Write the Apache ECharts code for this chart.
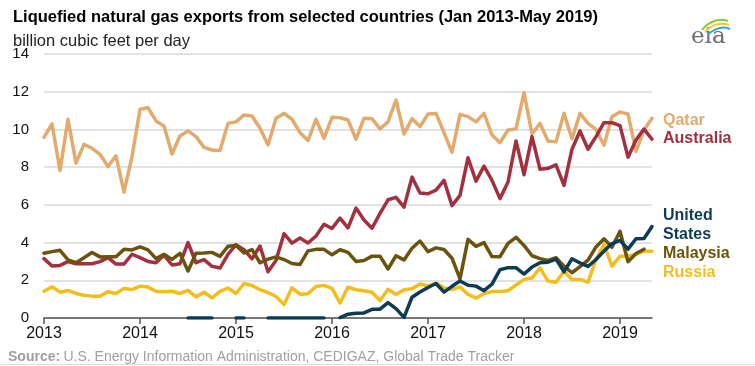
<!DOCTYPE html>
<html>
<head>
<meta charset="utf-8">
<script src="https://cdn.jsdelivr.net/npm/echarts@6/dist/echarts.min.js"></script>
<style>
html,body{margin:0;padding:0;background:#fff;}
#chart{width:755px;height:366px;}
</style>
</head>
<body>
<div id="chart"></div>
<script>
// ---- data (monthly, Jan 2013 - May 2019) ----
var years = [2013, 2014, 2015, 2016, 2017, 2018, 2019];
var yTicks = [0, 2, 4, 6, 8, 10, 12, 14];
var seriesNames = ['Qatar', 'Australia', 'United States', 'Malaysia', 'Russia'];

var qatar = [9.58,10.29,7.82,10.54,8.21,9.21,9.0,8.68,8.03,8.6,
  6.67,8.56,11.07,11.15,10.45,10.18,8.7,9.65,9.92,9.62,
  9.05,8.91,8.88,10.32,10.4,10.77,10.71,10.06,9.18,10.59,
  10.85,10.54,9.83,9.41,10.54,9.53,10.64,10.62,10.5,9.48,
  10.59,10.57,10.03,10.4,11.56,9.76,10.57,10.15,10.82,10.85,
  9.83,8.79,10.8,10.68,10.4,10.85,9.71,9.3,9.97,10.03,
  11.95,9.76,10.32,9.39,9.34,10.85,9.51,10.85,10.32,10.0,
  9.16,10.68,10.92,10.82,8.83,9.97,10.59];
var australia = [3.15,2.76,2.79,2.99,2.88,2.88,2.88,2.99,3.2,2.86,
  2.86,3.38,3.2,3.0,2.93,3.33,2.81,2.88,4.0,2.93,
  3.1,2.74,2.65,3.37,3.89,3.62,3.14,3.82,2.45,3.05,
  4.47,3.97,4.24,3.98,4.35,4.97,4.75,5.3,4.78,5.83,
  5.2,4.76,5.55,6.27,6.4,5.88,7.47,6.63,6.59,6.78,
  7.3,5.96,6.5,8.5,7.26,8.05,7.3,6.33,7.21,9.39,
  7.6,9.62,7.89,7.94,8.12,7.03,8.95,9.92,8.95,9.62,
  10.36,10.36,10.2,8.53,9.44,10.02,9.48];
var unitedStates = [null,null,null,null,null,null,null,null,null,null,
  null,null,null,null,null,null,null,null,0,0,
  0,0,null,null,0,0,null,null,0,0,
  0,0,0,0,0,0,null,0.02,0.2,0.25,
  0.27,0.46,0.47,0.82,0.5,0.03,1.1,1.38,1.62,1.83,
  1.37,1.68,1.96,1.74,1.69,1.45,1.8,2.56,2.67,2.67,
  2.33,2.7,2.93,2.96,3.12,2.45,3.14,2.92,2.73,3.1,
  3.55,3.95,4.12,3.65,4.2,4.22,4.85];
var malaysia = [3.43,3.52,3.59,3.08,2.93,3.2,3.47,3.24,3.25,3.25,
  3.64,3.61,3.77,3.61,3.15,3.38,3.11,3.43,2.49,3.43,
  3.45,3.48,3.27,3.8,3.85,3.45,3.63,2.93,3.12,3.24,
  3.1,2.89,2.84,3.56,3.64,3.64,3.35,3.62,3.48,3.0,
  3.05,3.28,3.28,2.6,3.3,3.08,3.7,4.08,3.52,3.72,
  3.63,3.17,2.08,4.17,3.8,4.0,3.26,3.25,3.96,4.28,
  3.85,3.3,3.15,3.05,3.2,2.75,2.4,2.72,3.07,3.77,
  4.2,3.75,4.6,2.98,3.42,3.65,null];
var russia = [1.42,1.66,1.37,1.46,1.3,1.21,1.16,1.16,1.39,1.3,
  1.57,1.51,1.69,1.64,1.42,1.39,1.42,1.3,1.46,1.12,
  1.37,1.06,1.41,1.59,1.3,1.83,1.72,1.5,1.35,1.14,
  0.71,1.6,1.26,1.29,1.67,1.73,1.57,0.8,1.64,1.5,
  1.44,1.37,0.93,1.52,1.25,1.5,1.55,1.8,1.7,1.85,
  1.6,1.5,1.65,1.25,1.05,1.3,1.4,1.4,1.45,1.75,
  2.04,2.13,2.66,1.96,1.9,2.48,2.04,2.04,1.9,3.1,
  3.9,2.75,3.28,3.28,3.37,3.54,3.54];

// month categories
var months = [];
for (var i = 0; i < qatar.length; i++) {
  var y = years[0] + Math.floor(i / 12);
  var m = (i % 12) + 1;
  months.push(y + '-' + (m < 10 ? '0' + m : m));
}

var colors = {
  'Qatar': '#e3aa6e',
  'Australia': '#a2303f',
  'United States': '#0c3b55',
  'Malaysia': '#6a530c',
  'Russia': '#f5bd1c'
};
var FONT = 'Liberation Sans, Arial, sans-serif';

function lineSeries(name, data, z) {
  return {
    name: name, type: 'line', data: data, showSymbol: false, connectNulls: false,
    z: z, animation: false,
    lineStyle: { color: colors[name], width: 3.5, cap: 'round', join: 'round' },
    itemStyle: { color: colors[name] }
  };
}

function labelText(text, top, color) {
  return { type: 'text', left: 663, top: top,
    style: { text: text, fill: color, font: 'bold 16px ' + FONT } };
}

var chart = echarts.init(document.getElementById('chart'), null, { renderer: 'canvas' });
chart.setOption({
  animation: false,
  backgroundColor: '#ffffff',
  title: [
    { text: 'Liquefied natural gas exports from selected countries (Jan 2013-May 2019)',
      left: 8, top: 4, textStyle: { fontFamily: FONT, fontWeight: 'bold', fontSize: 16.5, color: '#000' } },
    { text: 'billion cubic feet per day',
      left: 8, top: 28, textStyle: { fontFamily: FONT, fontWeight: 'normal', fontSize: 16.5, color: '#222' } }
  ],
  grid: { left: 44, right: 103, top: 54, bottom: 48, containLabel: false },
  xAxis: {
    type: 'category', data: months, boundaryGap: false,
    axisLine: { show: true, lineStyle: { color: '#555', width: 1.5 } },
    axisTick: { show: true, length: 6, inside: false, lineStyle: { color: '#555', width: 1.5 },
      interval: function (idx) { return idx % 12 === 0; } },
    axisLabel: { interval: function (idx) { return idx % 12 === 0; },
      formatter: function (v) { return v.slice(0, 4); },
      fontFamily: FONT, fontSize: 16, color: '#111', margin: 8 },
    splitLine: { show: false }
  },
  yAxis: {
    type: 'value', min: yTicks[0], max: yTicks[yTicks.length - 1], interval: 2,
    axisLine: { show: false }, axisTick: { show: false },
    axisLabel: { fontFamily: FONT, fontSize: 15, color: '#111', margin: 15 },
    splitLine: { lineStyle: { color: '#d9d9d9', width: 1.5 } }
  },
  series: [
    lineSeries('Qatar', qatar, 3),
    lineSeries('Australia', australia, 4),
    lineSeries('Russia', russia, 5),
    lineSeries('Malaysia', malaysia, 6),
    lineSeries('United States', unitedStates, 7)
  ],
  graphic: [
    labelText('Qatar', 113, colors['Qatar']),
    labelText('Australia', 131, colors['Australia']),
    labelText('United', 208, colors['United States']),
    labelText('States', 227, colors['United States']),
    labelText('Malaysia', 246, colors['Malaysia']),
    labelText('Russia', 265, colors['Russia']),
    { type: 'text', left: 8, top: 350,
      style: { rich: { b: { font: 'bold 14px ' + FONT, fill: '#a0a0a0' }, n: { font: '14px ' + FONT, fill: '#a0a0a0' } },
        text: '{b|Source:} {n|U.S. Energy Information Administration, CEDIGAZ, Global Trade Tracker}' } },
    { type: 'line', shape: { x1: 0, y1: 364.5, x2: 755, y2: 364.5 }, style: { stroke: '#dddddd', lineWidth: 1 } },
    // eia logo
    { type: 'text', left: 691, top: 26, style: { text: 'eia', font: '23px DejaVu Serif, serif', fill: '#6d6e71' } },
    { type: 'bezierCurve', shape: { x1: 702, y1: 30, x2: 728, y2: 21, cpx1: 709, cpy1: 21, cpx2: 720, cpy2: 18 },
      style: { stroke: '#8cc63f', lineWidth: 2, fill: null } },
    { type: 'bezierCurve', shape: { x1: 705, y1: 32, x2: 729, y2: 25, cpx1: 712, cpy1: 24, cpx2: 722, cpy2: 22 },
      style: { stroke: '#f6c917', lineWidth: 2, fill: null } },
    { type: 'bezierCurve', shape: { x1: 708, y1: 34, x2: 730, y2: 29, cpx1: 715, cpy1: 28, cpx2: 724, cpy2: 26 },
      style: { stroke: '#2aa0d8', lineWidth: 2, fill: null } }
  ]
});
</script>
</body>
</html>
